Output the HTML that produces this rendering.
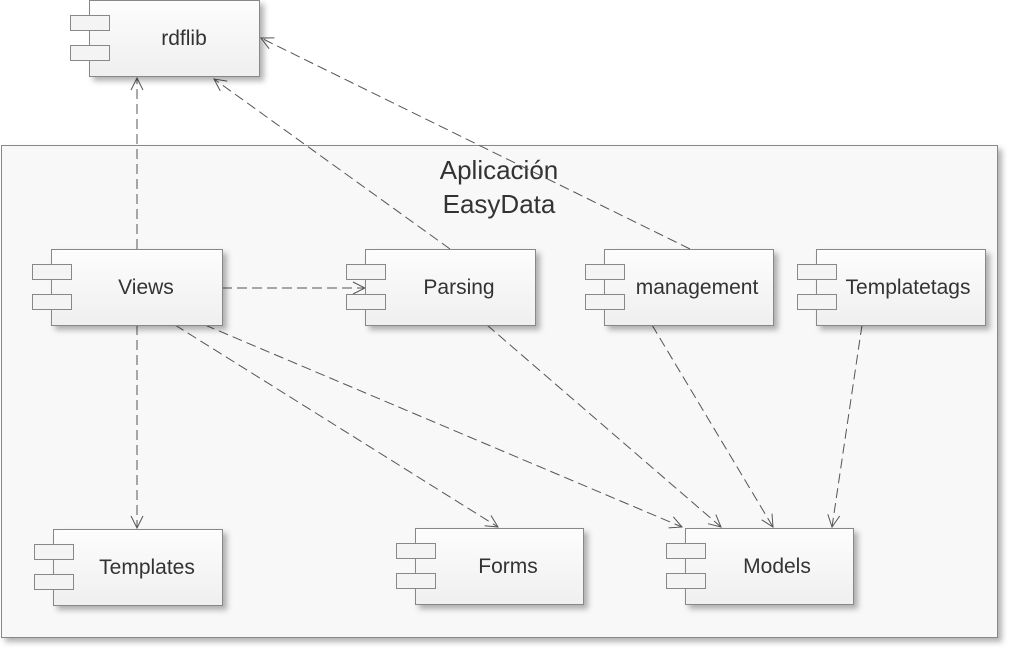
<!DOCTYPE html>
<html><head><style>
body{margin:0;width:1014px;height:654px;background:#fff;overflow:hidden;font-family:"Liberation Sans",sans-serif}
</style></head><body>
<svg width="1014" height="654" xmlns="http://www.w3.org/2000/svg">
<defs>
<linearGradient id="g" x1="0" y1="0" x2="0" y2="1"><stop offset="0" stop-color="#fdfdfd"/><stop offset="1" stop-color="#efefef"/></linearGradient>
<filter id="s" x="-10%" y="-10%" width="130%" height="140%"><feDropShadow dx="4" dy="4" stdDeviation="3" flood-color="#000" flood-opacity="0.3"/></filter>
<marker id="a" markerWidth="14" markerHeight="14" refX="13" refY="7" orient="auto" markerUnits="userSpaceOnUse"><path d="M1,1 L13,7 L1,13" fill="none" stroke="#555" stroke-width="1"/></marker>
</defs>
<rect x="1.5" y="145.5" width="996" height="492" fill="#f8f8f8" stroke="#888" filter="url(#s)"/>
<text x="499" y="179" font-size="26" text-anchor="middle" fill="#333">Aplicación</text>
<text x="499" y="213" font-size="26" text-anchor="middle" fill="#333">EasyData</text>
<g stroke="#555" stroke-width="1" stroke-dasharray="10,5" fill="none" marker-end="url(#a)">
<line x1="137" y1="249" x2="137" y2="78"/>
<line x1="450" y1="249" x2="214" y2="79"/>
<line x1="690" y1="249" x2="261" y2="38"/>
<line x1="222" y1="288" x2="365" y2="288"/>
<line x1="137" y1="325" x2="137" y2="528"/>
<line x1="175" y1="325" x2="498" y2="527"/>
<line x1="205" y1="325" x2="682" y2="527"/>
<line x1="487" y1="325" x2="721" y2="527"/>
<line x1="652" y1="325" x2="773" y2="527"/>
<line x1="862" y1="325" x2="832" y2="527"/>
</g>
<g font-size="21" fill="#333" text-anchor="middle">
<g><rect x="89.5" y="0.5" width="170" height="76" fill="url(#g)" stroke="#888" filter="url(#s)"/><rect x="70.5" y="15.5" width="39" height="15" fill="#f4f4f4" stroke="#888"/><rect x="70.5" y="45.5" width="39" height="15" fill="#f4f4f4" stroke="#888"/><text x="184" y="45">rdflib</text></g>
<g><rect x="51.5" y="249.5" width="171" height="76" fill="url(#g)" stroke="#888" filter="url(#s)"/><rect x="32.5" y="264.5" width="39" height="15" fill="#f4f4f4" stroke="#888"/><rect x="32.5" y="294.5" width="39" height="15" fill="#f4f4f4" stroke="#888"/><text x="146" y="294">Views</text></g>
<g><rect x="365.5" y="249.5" width="170" height="76" fill="url(#g)" stroke="#888" filter="url(#s)"/><rect x="346.5" y="264.5" width="39" height="15" fill="#f4f4f4" stroke="#888"/><rect x="346.5" y="294.5" width="39" height="15" fill="#f4f4f4" stroke="#888"/><text x="459" y="294">Parsing</text></g>
<g><rect x="604.5" y="249.5" width="169" height="76" fill="url(#g)" stroke="#888" filter="url(#s)"/><rect x="585.5" y="264.5" width="39" height="15" fill="#f4f4f4" stroke="#888"/><rect x="585.5" y="294.5" width="39" height="15" fill="#f4f4f4" stroke="#888"/><text x="697" y="294">management</text></g>
<g><rect x="816.5" y="249.5" width="169" height="76" fill="url(#g)" stroke="#888" filter="url(#s)"/><rect x="797.5" y="264.5" width="39" height="15" fill="#f4f4f4" stroke="#888"/><rect x="797.5" y="294.5" width="39" height="15" fill="#f4f4f4" stroke="#888"/><text x="908" y="294">Templatetags</text></g>
<g><rect x="53.5" y="529.5" width="169" height="76" fill="url(#g)" stroke="#888" filter="url(#s)"/><rect x="34.5" y="544.5" width="39" height="15" fill="#f4f4f4" stroke="#888"/><rect x="34.5" y="574.5" width="39" height="15" fill="#f4f4f4" stroke="#888"/><text x="147" y="574">Templates</text></g>
<g><rect x="415.5" y="528.5" width="168" height="76" fill="url(#g)" stroke="#888" filter="url(#s)"/><rect x="396.5" y="543.5" width="39" height="15" fill="#f4f4f4" stroke="#888"/><rect x="396.5" y="573.5" width="39" height="15" fill="#f4f4f4" stroke="#888"/><text x="508" y="573">Forms</text></g>
<g><rect x="685.5" y="528.5" width="168" height="76" fill="url(#g)" stroke="#888" filter="url(#s)"/><rect x="666.5" y="543.5" width="39" height="15" fill="#f4f4f4" stroke="#888"/><rect x="666.5" y="573.5" width="39" height="15" fill="#f4f4f4" stroke="#888"/><text x="777" y="573">Models</text></g>
</g>
</svg>
</body></html>
